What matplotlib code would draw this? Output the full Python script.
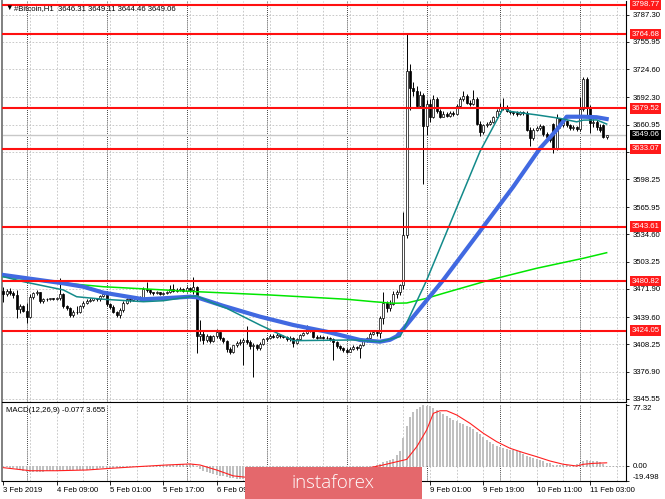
import numpy as np
import matplotlib
matplotlib.use("Agg")
import matplotlib.pyplot as plt
from matplotlib import transforms
from matplotlib.patches import Rectangle

plt.rcParams['font.family'] = ['Liberation Sans', 'DejaVu Sans']

W, H = 665, 499
FS = 5.6

# --- H1 candles, 3 Feb 17:00 .. 11 Feb 03:00 ---
closes = [3466, 3470, 3467, 3465, 3449, 3452, 3447, 3440, 3463, 3467, 3469, 3458, 3460, 3460, 3461, 3460,
          3461, 3466, 3452, 3450, 3442, 3446, 3445, 3452, 3456, 3458, 3459, 3461, 3460, 3464, 3466, 3455,
          3451, 3446, 3442, 3448, 3456, 3460, 3459, 3461, 3460, 3462, 3472, 3471, 3468, 3467, 3468, 3466,
          3467, 3468, 3472, 3470, 3471, 3472, 3470, 3473, 3471, 3474, 3418, 3420, 3413, 3418, 3412, 3418,
          3422, 3415, 3412, 3403, 3400, 3407, 3410, 3411, 3413, 3411, 3406, 3408, 3404, 3409, 3414, 3415,
          3418, 3417, 3419, 3418, 3417, 3414, 3416, 3410, 3414, 3419, 3421, 3426, 3424, 3417, 3416, 3417,
          3415, 3416, 3414, 3411, 3406, 3404, 3402, 3400, 3403, 3405, 3404, 3407, 3412, 3415, 3420, 3422,
          3421, 3438, 3456, 3450, 3455, 3466, 3468, 3476, 3534, 3722, 3703, 3699, 3682, 3695, 3659, 3684,
          3670, 3690, 3677, 3670, 3673, 3671, 3674, 3673, 3682, 3690, 3694, 3686, 3685, 3690, 3662, 3652,
          3660, 3662, 3664, 3669, 3677, 3680, 3681, 3677, 3675, 3674, 3673, 3675, 3674, 3655, 3645, 3655,
          3657, 3659, 3650, 3647, 3643, 3633, 3668, 3660, 3665, 3660, 3657, 3658, 3656, 3679, 3713, 3681,
          3663, 3664, 3658, 3655, 3647, 3649.06]
highs = [3474, 3472, 3473, 3470, 3471, 3455, 3454, 3456, 3466, 3469, 3471, 3469, 3462, 3462, 3462, 3462,
         3463, 3485, 3467, 3454, 3451, 3448, 3452, 3453, 3458, 3460, 3461, 3462, 3462, 3465, 3470, 3469,
         3456, 3453, 3447, 3450, 3458, 3462, 3462, 3462, 3462, 3464, 3474, 3480, 3472, 3469, 3470, 3469,
         3468, 3470, 3476, 3478, 3473, 3474, 3473, 3475, 3474, 3486, 3475, 3436, 3424, 3420, 3419, 3419,
         3426, 3423, 3417, 3413, 3405, 3408, 3412, 3414, 3416, 3429, 3413, 3410, 3409, 3411, 3415, 3417,
         3420, 3420, 3421, 3420, 3419, 3418, 3418, 3417, 3415, 3420, 3423, 3430, 3427, 3425, 3419, 3419,
         3418, 3418, 3417, 3415, 3412, 3407, 3405, 3404, 3405, 3407, 3406, 3409, 3413, 3417, 3422, 3424,
         3425, 3441, 3469, 3458, 3459, 3470, 3471, 3478, 3560, 3764.68, 3731, 3710, 3705, 3700, 3697, 3689,
         3690, 3695, 3692, 3679, 3676, 3675, 3676, 3676, 3684, 3692, 3700, 3696, 3689, 3701, 3693, 3665,
         3662, 3664, 3666, 3671, 3679, 3686, 3691, 3683, 3678, 3677, 3676, 3677, 3676, 3676, 3658, 3657,
         3659, 3661, 3660, 3652, 3649, 3663, 3673, 3668, 3667, 3666, 3661, 3660, 3659, 3692, 3715, 3715,
         3683, 3667, 3666, 3662, 3662, 3649.11]
lows = [3457, 3464, 3465, 3462, 3439, 3444, 3445, 3433, 3439, 3460, 3465, 3456, 3456, 3458, 3459, 3459,
        3459, 3459, 3450, 3448, 3440, 3440, 3443, 3444, 3450, 3455, 3457, 3458, 3458, 3458, 3463, 3452,
        3449, 3444, 3440, 3438, 3446, 3455, 3457, 3458, 3458, 3459, 3461, 3468, 3466, 3465, 3466, 3465,
        3465, 3466, 3467, 3469, 3469, 3470, 3468, 3469, 3469, 3466, 3398, 3412, 3409, 3411, 3410, 3411,
        3416, 3413, 3410, 3400, 3397, 3398, 3405, 3408, 3385, 3409, 3403, 3371, 3402, 3402, 3407, 3412,
        3414, 3415, 3416, 3416, 3415, 3412, 3412, 3405, 3409, 3413, 3418, 3420, 3422, 3415, 3414, 3415,
        3414, 3414, 3412, 3390, 3404, 3402, 3400, 3398, 3399, 3402, 3402, 3392, 3406, 3411, 3414, 3419,
        3418, 3416, 3432, 3446, 3447, 3454, 3462, 3465, 3472, 3530, 3678, 3694, 3680, 3680, 3593, 3649,
        3664, 3668, 3674, 3668, 3669, 3669, 3670, 3671, 3672, 3680, 3688, 3684, 3682, 3683, 3660, 3648,
        3650, 3658, 3660, 3663, 3668, 3676, 3678, 3675, 3673, 3672, 3671, 3672, 3672, 3653, 3636, 3643,
        3653, 3655, 3648, 3645, 3641, 3628, 3632, 3657, 3658, 3658, 3655, 3655, 3654, 3654, 3676, 3672,
        3651, 3658, 3655, 3652, 3645, 3644.46]
first_open = 3470
open_gaps = {165: 3662, 180: 3660, 181: 3646.31}   # bars that did not open at the previous close

opens = [first_open] + closes[:-1]
for k, v in open_gaps.items():
    opens[k] = v

# moving averages, read at a few bars
blue_x = [0, 18, 24, 30, 42, 48, 56, 58, 66, 77, 87, 97, 107, 113, 116, 118, 120, 132, 144, 153, 161, 166, 169, 174, 178, 181]
blue_y = [3488, 3478.4, 3474.5, 3467.7, 3460.1, 3461.2, 3463.0, 3462.4, 3452.5, 3440.1, 3430.5, 3422.8, 3413.3, 3411.3,
          3413.5, 3417.5, 3426, 3482.3, 3543.5, 3589.5, 3633.5, 3654.7, 3669.9, 3669.9, 3669.3, 3667.3]
teal_x = [0, 6, 18, 22, 30, 42, 48, 56, 58, 62, 67, 77, 87, 105, 113, 119, 120, 127, 143, 150, 152, 160, 167, 172, 174, 178, 181]
teal_y = [3486, 3480.3, 3470.8, 3463.0, 3460.1, 3457.3, 3458.4, 3463.0, 3463.9, 3457.0, 3449.7, 3430.5, 3412.5, 3413.3,
          3411.3, 3417.1, 3424.8, 3482, 3630, 3680, 3676, 3672, 3668, 3664, 3666, 3666.2, 3661.5]
green_x = [0, 10, 30, 58, 80, 103, 111, 117, 121, 127, 132, 146, 160, 174, 181]
green_y = [3486, 3481.4, 3474.5, 3468.8, 3465.0, 3460.1, 3457.3, 3455.5, 3455.8, 3461.2, 3466.9, 3482.3, 3495.7, 3507.2, 3513.6]

levels = [3798.77, 3764.68, 3679.52, 3633.07, 3543.61, 3480.82, 3424.05]
price_ticks = [3787.30, 3755.95, 3724.60, 3692.30, 3660.95, 3629.60, 3598.25, 3565.95,
               3534.60, 3503.25, 3471.90, 3439.60, 3408.25, 3376.90, 3345.55]
bid = 3649.06

# MACD(12,26,9) main as histogram
macd_main = [-1.5, -2, -2.5, -3, -4.5, -5.5, -6.5, -7.5, -7.5, -8, -8, -7.5, -7.5, -7, -7, -7,
             -6.5, -6.5, -6, -6, -6, -6, -5.5, -5.5, -5.5, -5, -4.5, -4, -4, -3.5, -3.5, -3,
             -3, -2.5, -2.5, -2.5, -2, -2, -2, -1.5, -1.5, -1, -0.5, -0.5, 0, 0, 0.3, 0.5,
             1, 1, 1.5, 1.5, 1.5, 2, 2, 2, 2, 2, -2, -4.5, -6.5, -8, -9.5, -11,
             -12, -13, -13.5, -14.5, -15.5, -16, -16.5, -17, -17.5, -18.5, -19.498, -19.2, -18.8, -18.3, -17.6, -16.8,
             -16, -15.2, -14.4, -13.6, -12.8, -12, -11.3, -10.5, -9.7, -8.8, -7.8, -6.8, -6, -5.4, -5, -4.6,
             -4.3, -4.1, -4, -4.1, -4.4, -4.7, -5, -5.1, -4.9, -4.5, -4, -3.4, -2.6, -1.7, -0.8, 0,
             1, 2.5, 4.5, 5.7, 7, 8.7, 13, 19, 35, 50, 62, 68, 72, 75, 77.32, 76.5,
             75.5, 74, 71, 68, 65.5, 63, 61, 58.5, 56.5, 55, 53, 51, 49, 46.5, 43, 40,
             36.5, 33, 30, 27.5, 25.5, 24, 23, 21.5, 20.5, 19.5, 18.5, 17, 15, 12.5, 11, 10,
             8.5, 7, 5.5, 4, 3, 1.5, 1, 0.8, 0.5, 0.3, 0.2, 0.8, 2.5, 4, 6.5, 7,
             6, 5.5, 5.5, 4.5, 2, -0.077]
signal_x = [0, 8, 16, 25, 32, 40, 49, 56, 59, 64, 69, 73, 78, 84, 90, 96, 102, 108, 113, 118, 121, 124,
            127, 129, 131, 133, 136, 140, 144, 148, 152, 156, 160, 164, 168, 172, 174, 177, 181]
signal_y = [-2.5, -6.4, -6.4, -5.5, -3.4, -1.3, 0.9, 2.2, 0.9, -5.5, -13, -14.8, -16.5, -15.5, -13, -9.5, -7, -4, 0,
            5, 8, 24, 45.5, 66.7, 70, 70, 64.6, 54, 41.3, 30.6, 22.2, 16.6, 11.5, 6, 1.8, -0.4, 1.8, 3, 3.655]

time_ticks = [0, 16, 32, 48, 64, 80, 96, 112, 128, 144, 160, 176]
time_labels = ["3 Feb 2019", "4 Feb 09:00", "5 Feb 01:00", "5 Feb 17:00", "6 Feb 09:00", "7 Feb 01:00",
               "7 Feb 17:00", "8 Feb 09:00", "9 Feb 01:00", "9 Feb 19:00", "10 Feb 11:00", "11 Feb 03:00"]
day_starts = [7, 31, 55, 79, 103, 127, 149, 173]

# --- figure ---
fig = plt.figure(figsize=(W / 100, H / 100), dpi=100)
fig.patch.set_facecolor('white')


def px_axes(x0, y0, x1, y1):
    return fig.add_axes([x0 / W, 1 - y1 / H, (x1 - x0) / W, (y1 - y0) / H])


ax = px_axes(2, 1, 626, 402)
mx = px_axes(2, 404, 626, 481)

n = len(closes)
xs = np.arange(n)
XL = (-0.4, 186.8)

for a in (ax, mx):
    a.set_xlim(*XL)
    a.set_facecolor('white')
    for k in range(8, 188, 8):
        a.axvline(k, color='#c0c0c0', lw=0.6, ls=(0, (2, 2)), zorder=0)
    for k in day_starts:
        a.axvline(k, color='black', lw=0.6, ls=(0, (1, 1.5)), zorder=0)
    a.spines['top'].set_visible(False)
    a.spines['left'].set_color('#808080')
    a.spines['left'].set_linewidth(1.4)
    a.spines['right'].set_linewidth(0.8)
    a.spines['bottom'].set_linewidth(0.8)

ax.set_ylim(3342.0, 3802.9)
for p in price_ticks:
    ax.axhline(p, color='#c0c0c0', lw=0.6, ls=(0, (2, 2)), zorder=0)
ax.axhline(bid, color='#c8c8c8', lw=1.0, zorder=1)

# candles
o = np.array(opens)
c = np.array(closes)
up = c >= o
ax.vlines(xs, lows, highs, color='black', lw=0.7, zorder=3)
ax.bar(xs[up], (c - o)[up], bottom=o[up], width=0.62, color='white', edgecolor='black', lw=0.5, zorder=4)
ax.bar(xs[~up], (o - c)[~up], bottom=c[~up], width=0.62, color='black', edgecolor='black', lw=0.5, zorder=4)

ax.plot(green_x, green_y, color='#00e600', lw=1.1, zorder=5)
ax.plot(blue_x, blue_y, color='#4169e1', lw=3.0, zorder=5, solid_joinstyle='round')
ax.plot(teal_x, teal_y, color='#138a8a', lw=1.1, zorder=6)

for lv in levels:
    ax.axhline(lv, color='#ff1010', lw=1.5, zorder=7)

ax.yaxis.tick_right()
ax.set_yticks(price_ticks)
ax.set_yticklabels([f"{p:.2f}" for p in price_ticks])
ax.tick_params(axis='y', direction='out', length=2.5, width=0.6, pad=2.5, labelsize=FS)
ax.set_xticks([])

blend = transforms.blended_transform_factory(ax.transAxes, ax.transData)
for lv in levels:
    ax.text(1 + 5.5 / 624, lv, f"{lv:.2f}", transform=blend, ha='left', va='center', color='white',
            fontsize=FS, clip_on=False, zorder=10,
            bbox=dict(boxstyle='square,pad=0.22', fc='#ff1a1a', ec='none'))
ax.text(1 + 5.5 / 624, bid, f"{bid:.2f}", transform=blend, ha='left', va='center', color='white',
        fontsize=FS, clip_on=False, zorder=10,
        bbox=dict(boxstyle='square,pad=0.22', fc='black', ec='none'))

# MACD panel
mx.set_ylim(-19.498, 78.6)
mx.axhline(0, color='#a0a0a0', lw=0.6, ls=(0, (2, 2)), zorder=1)
mx.bar(xs, macd_main, width=0.6, color='#c0c0c0', zorder=2)
mx.plot(signal_x, signal_y, color='#ff2020', lw=0.8, zorder=3)
mx.yaxis.tick_right()
mx.set_yticks([-19.498, 0, 77.32])
mx.set_yticklabels(['-19.498', '0.00', '77.32'])
mx.tick_params(axis='y', direction='out', length=2.5, width=0.6, pad=2.5, labelsize=FS)
yl = mx.get_yticklabels()
yl[0].set_va('bottom')
yl[2].set_va('top')
mx.set_xticks(time_ticks)
mx.set_xticklabels(time_labels, ha='left')
mx.tick_params(axis='x', direction='out', length=3, width=0.6, pad=1.5, labelsize=FS)

# header texts
fig.text(5 / W, 1 - 8.5 / H, "\u25bc", fontsize=5.5, va='center', ha='left')
fig.text(14 / W, 1 - 8.5 / H, "#Bitcoin,H1  3646.31 3649.11 3644.46 3649.06", fontsize=FS, va='center', ha='left')
fig.text(6 / W, 1 - 411 / H, "MACD(12,26,9) -0.077 3.655", fontsize=FS, va='center', ha='left')

# watermark
fig.add_artist(Rectangle((245 / W, 0), 177 / W, 32 / H, transform=fig.transFigure,
                         fc='#e4686c', ec='none', zorder=20))
fig.text(333 / W, 1 - 483 / H, "instaforex", color='white', fontsize=13.5, ha='center', va='center',
         family=['Open Sans', 'DejaVu Sans'], fontweight='light', zorder=21)

fig.savefig('out.png', dpi=100, facecolor='white')
